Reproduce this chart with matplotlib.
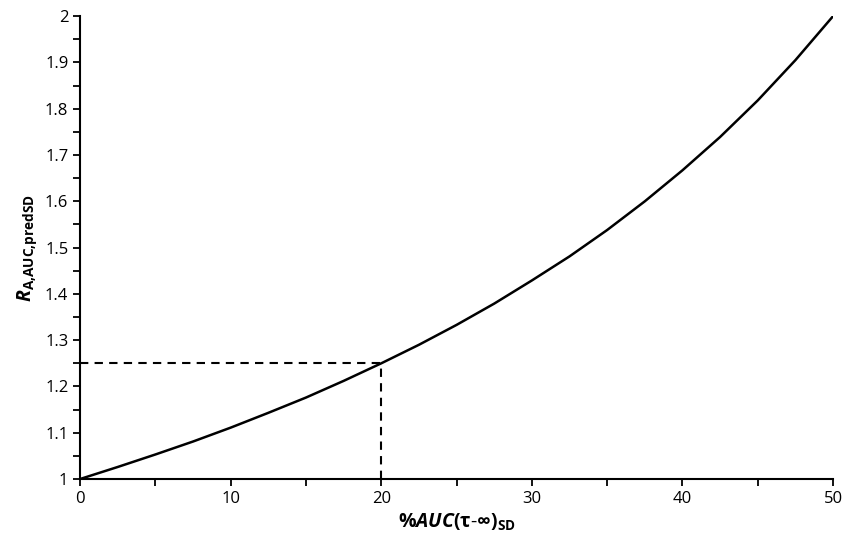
import matplotlib
matplotlib.use('Agg')
import matplotlib.pyplot as plt
import matplotlib.ticker as ticker

# values
pct_auc = [0, 2.5, 5, 7.5, 10, 12.5, 15, 17.5, 20, 22.5, 25, 27.5, 30,
           32.5, 35, 37.5, 40, 42.5, 45, 47.5, 50]
ratio = [1.0, 1.026, 1.053, 1.081, 1.111, 1.143, 1.176, 1.212, 1.25, 1.29,
         1.333, 1.379, 1.429, 1.481, 1.538, 1.6, 1.667, 1.739, 1.818, 1.905, 2.0]

# reference point marked by the dashed guide lines
ref_x = 20
ref_y = 1.25

plt.rcParams['font.family'] = ['Open Sans', 'DejaVu Sans']
plt.rcParams['mathtext.fontset'] = 'custom'
plt.rcParams['mathtext.rm'] = 'Open Sans'
plt.rcParams['mathtext.bf'] = 'Open Sans:bold'
plt.rcParams['mathtext.it'] = 'Open Sans:italic'
plt.rcParams['mathtext.bfit'] = 'Open Sans:bold:italic'

fig = plt.figure(figsize=(8.44, 5.4), dpi=100)
ax = fig.add_axes([0.095, 0.113, 0.892, 0.857])

ax.plot(pct_auc, ratio, color='black', lw=1.8)
ax.plot([0, ref_x], [ref_y, ref_y], color='black', lw=1.5, ls=(0, (4, 3)))
ax.plot([ref_x, ref_x], [1, ref_y], color='black', lw=1.5, ls=(0, (4, 3)))

ax.set_xlim(0, 50)
ax.set_ylim(1, 2)
ax.xaxis.set_major_locator(ticker.MultipleLocator(10))
ax.xaxis.set_minor_locator(ticker.MultipleLocator(5))
ax.yaxis.set_major_locator(ticker.MultipleLocator(0.1))
ax.yaxis.set_minor_locator(ticker.MultipleLocator(0.05))
ax.yaxis.set_major_formatter(ticker.FuncFormatter(lambda v, p: ('%.1f' % v).rstrip('0').rstrip('.')))

for s in ['top', 'right']:
    ax.spines[s].set_visible(False)
for s in ['left', 'bottom']:
    ax.spines[s].set_linewidth(1.5)
ax.tick_params(which='both', direction='out', width=1.3, labelsize=12, colors='black', length=5)

ax.set_xlabel(r'$\mathbf{\%}\mathbfit{AUC}\mathbf{(\tau}\text{-}\mathbf{\infty)}_{\mathbf{SD}}$', fontsize=14, labelpad=3)
ax.set_ylabel(r'$\mathbfit{R}_{\mathbf{A{,}AUC{,}predSD}}$', fontsize=14, labelpad=4)

plt.savefig('out.png', dpi=100)
